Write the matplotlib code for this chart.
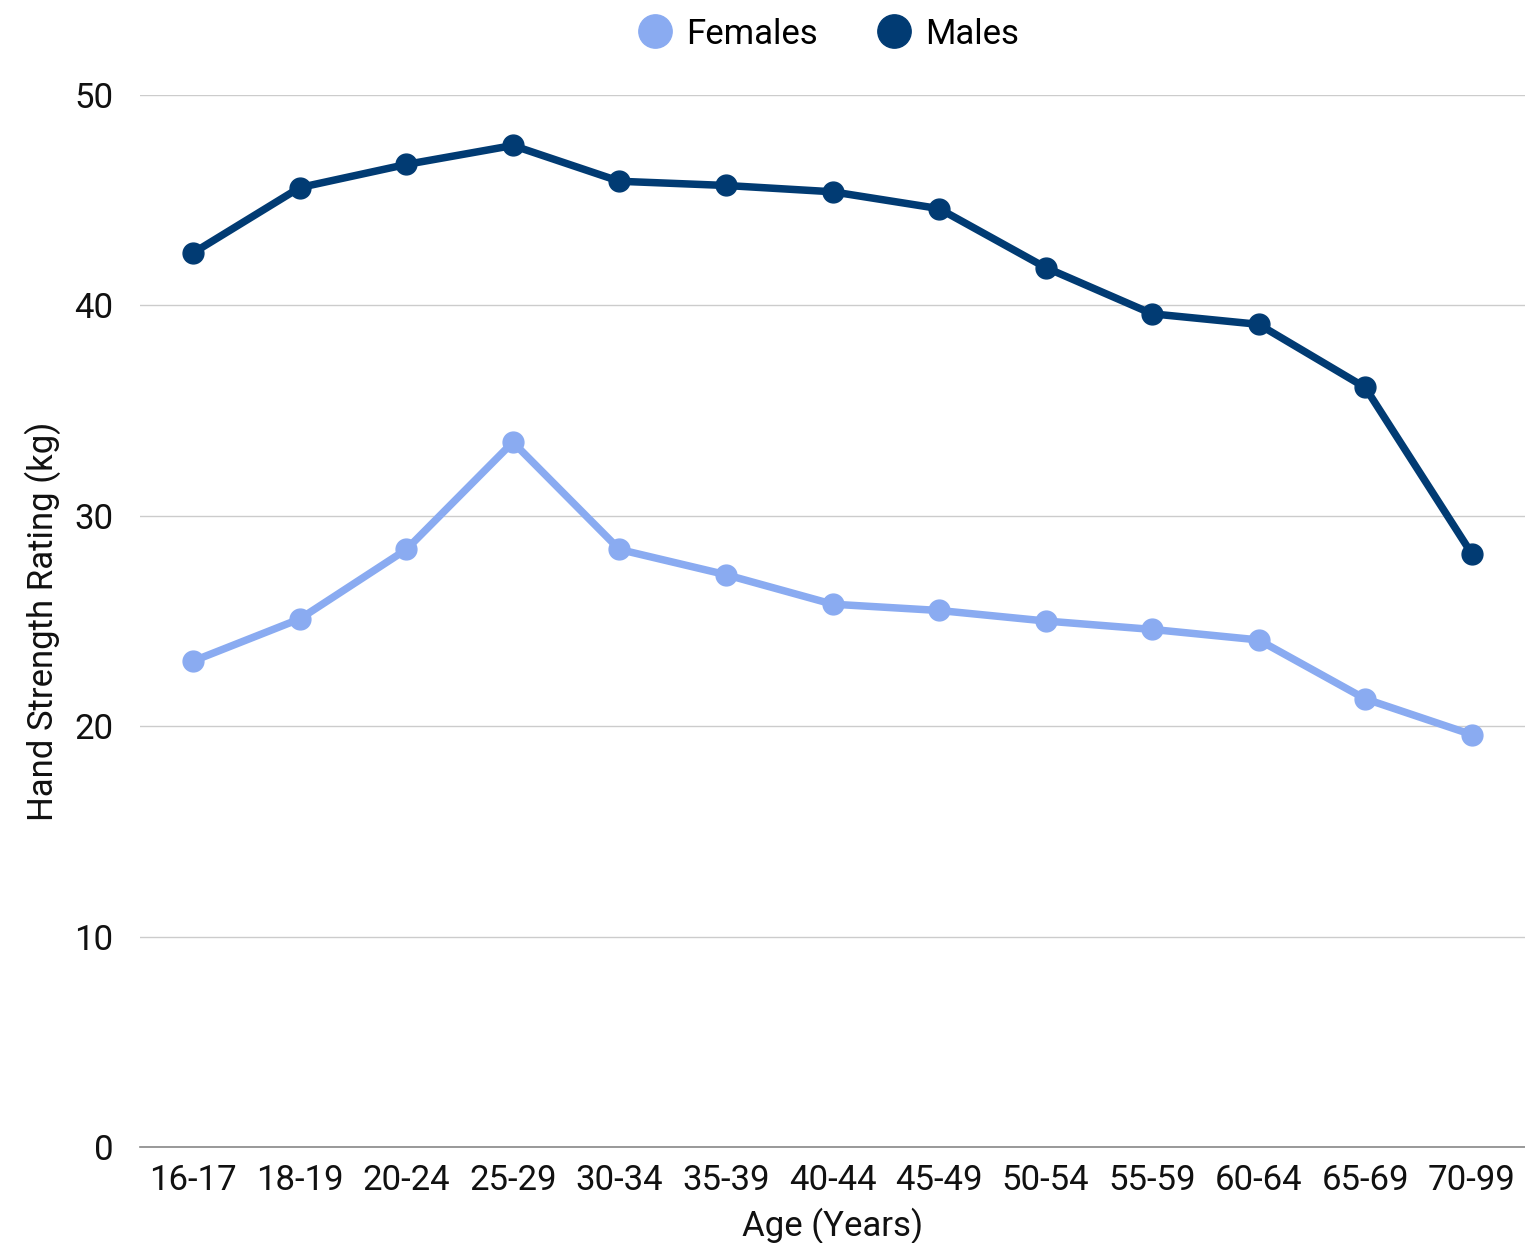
import matplotlib
matplotlib.use("Agg")
import matplotlib.pyplot as plt
from matplotlib.lines import Line2D

plt.rcParams['font.family'] = ['Roboto', 'DejaVu Sans']

ages = ["16-17", "18-19", "20-24", "25-29", "30-34", "35-39", "40-44",
        "45-49", "50-54", "55-59", "60-64", "65-69", "70-99"]
females = [23.1, 25.1, 28.4, 33.5, 28.4, 27.2, 25.8, 25.5, 25.0, 24.6, 24.1, 21.3, 19.6]
males = [42.5, 45.6, 46.7, 47.6, 45.9, 45.7, 45.4, 44.6, 41.8, 39.6, 39.1, 36.1, 28.2]
yticks = [0, 10, 20, 30, 40, 50]

c_f = "#8aabf1"
c_m = "#013b73"

fig = plt.figure(figsize=(15.25, 12.43), dpi=100)
ax = fig.add_axes([140/1525, 1 - 1147/1243, 1385/1525, (1147-95)/1243])

x = list(range(len(ages)))
ax.plot(x, females, color=c_f, lw=5.4, marker='o', ms=15, solid_capstyle='round', zorder=3)
ax.plot(x, males, color=c_m, lw=5.4, marker='o', ms=15, solid_capstyle='round', zorder=3)

ax.set_xlim(-0.5, len(ages) - 0.5)
ax.set_ylim(0, 50)
ax.set_yticks(yticks)
ax.set_xticks(x)
ax.set_xticklabels(ages)
ax.tick_params(axis='both', length=0, labelsize=25, colors='#111111')
ax.tick_params(axis='y', pad=19)
ax.tick_params(axis='x', pad=12)
ax.grid(axis='y', color='#cccccc', lw=1)
ax.set_axisbelow(True)
for s in ['top', 'right', 'left']:
    ax.spines[s].set_visible(False)
ax.spines['bottom'].set_color('#888888')
ax.spines['bottom'].set_linewidth(1.2)

ax.set_ylabel("Hand Strength Rating (kg)", fontsize=25, color='#111111', labelpad=10)
ax.set_xlabel("Age (Years)", fontsize=25, color='#111111', labelpad=8)

handles = [Line2D([], [], color=c_f, marker='o', ms=24, lw=0),
           Line2D([], [], color=c_m, marker='o', ms=24, lw=0)]
fig.legend(handles, ["Females", "Males"], loc='center', bbox_to_anchor=(0.542, 1 - 34/1243),
           ncol=2, frameon=False, fontsize=25, handletextpad=0.3, columnspacing=1.6,
           handlelength=1.2)

fig.savefig("out.png", dpi=100)
